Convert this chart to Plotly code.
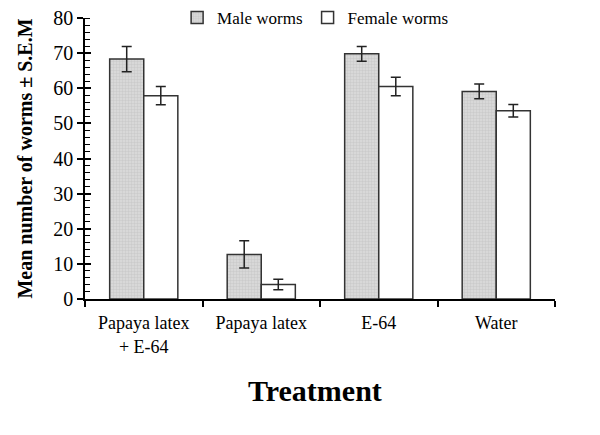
import plotly.graph_objects as go

categories = ["Papaya latex<br>+ E-64", "Papaya latex", "E-64", "Water"]
male_means = [68.3, 12.7, 69.8, 59.1]
male_sem = [3.6, 3.9, 2.1, 2.1]
female_means = [57.9, 4.1, 60.5, 53.6]
female_sem = [2.6, 1.5, 2.6, 1.8]
y_ticks = [0, 10, 20, 30, 40, 50, 60, 70, 80]

FONT = "Liberation Serif, Times New Roman, serif"

fig = go.Figure()
fig.add_trace(go.Bar(
    name="Male worms", x=categories, y=male_means,
    error_y=dict(type="data", array=male_sem, color="#222", thickness=1.5, width=5),
    marker=dict(color="#d2d2d2", line=dict(color="#333", width=1.5),
                pattern=dict(shape="+", bgcolor="#d8d8d8", fgcolor="#b0b0b0", size=3, solidity=0.25)),
))
fig.add_trace(go.Bar(
    name="Female worms", x=categories, y=female_means,
    error_y=dict(type="data", array=female_sem, color="#222", thickness=1.5, width=5),
    marker=dict(color="white", line=dict(color="#333", width=1.5)),
))
# invisible trace for an overlaid axis that draws inside major ticks
fig.add_trace(go.Scatter(x=[categories[0]], y=[0], yaxis="y2", mode="markers",
                         marker=dict(opacity=0), showlegend=False, hoverinfo="skip"))

# page body has an 8px default margin, so the figure is 8px smaller
fig.update_layout(
    width=592, height=427,
    margin=dict(l=77, r=45, t=10, b=136, autoexpand=False),
    paper_bgcolor="white", plot_bgcolor="white",
    barmode="group", bargap=0.42, bargroupgap=0,
    font=dict(family=FONT, size=18, color="black"),
    showlegend=True,
    legend=dict(orientation="h", x=0.196, y=1.0, xanchor="left", yanchor="middle",
                font=dict(family=FONT, size=17), bgcolor="rgba(0,0,0,0)",
                itemwidth=30, tracegroupgap=0),
    xaxis=dict(type="category", range=[-0.5, 3.5], showline=True, linecolor="black", linewidth=1.5,
               tickson="boundaries", ticks="outside", ticklen=6, tickcolor="black", tickwidth=1.5,
               tickfont=dict(family=FONT, size=18), showgrid=False, zeroline=False,
               ticklabelstandoff=7),
    yaxis=dict(range=[0, 80.001], tickvals=y_ticks, showline=True, linecolor="black", linewidth=1.5,
               ticks="outside", ticklen=6, tickcolor="black", tickwidth=1.5,
               ticklabeloverflow="allow",
               minor=dict(dtick=2, ticks="inside", ticklen=5, tickcolor="black", tickwidth=1),
               tickfont=dict(family=FONT, size=20), showgrid=False, zeroline=False,
               title=dict(text="<b>Mean number of worms ± S.E.M</b>",
                          font=dict(family=FONT, size=20), standoff=15)),
    yaxis2=dict(range=[0, 80.001], tickvals=y_ticks, overlaying="y", side="left", showline=False,
                ticks="inside", ticklen=6, tickcolor="black", tickwidth=1.5,
                showticklabels=False, showgrid=False, zeroline=False),
)

fig.add_annotation(text="<b>Treatment</b>", xref="paper", yref="paper", x=0.489, y=-0.327,
                   xanchor="center", yanchor="middle", showarrow=False,
                   font=dict(family=FONT, size=30, color="black"))

fig.write_html("out.html")
